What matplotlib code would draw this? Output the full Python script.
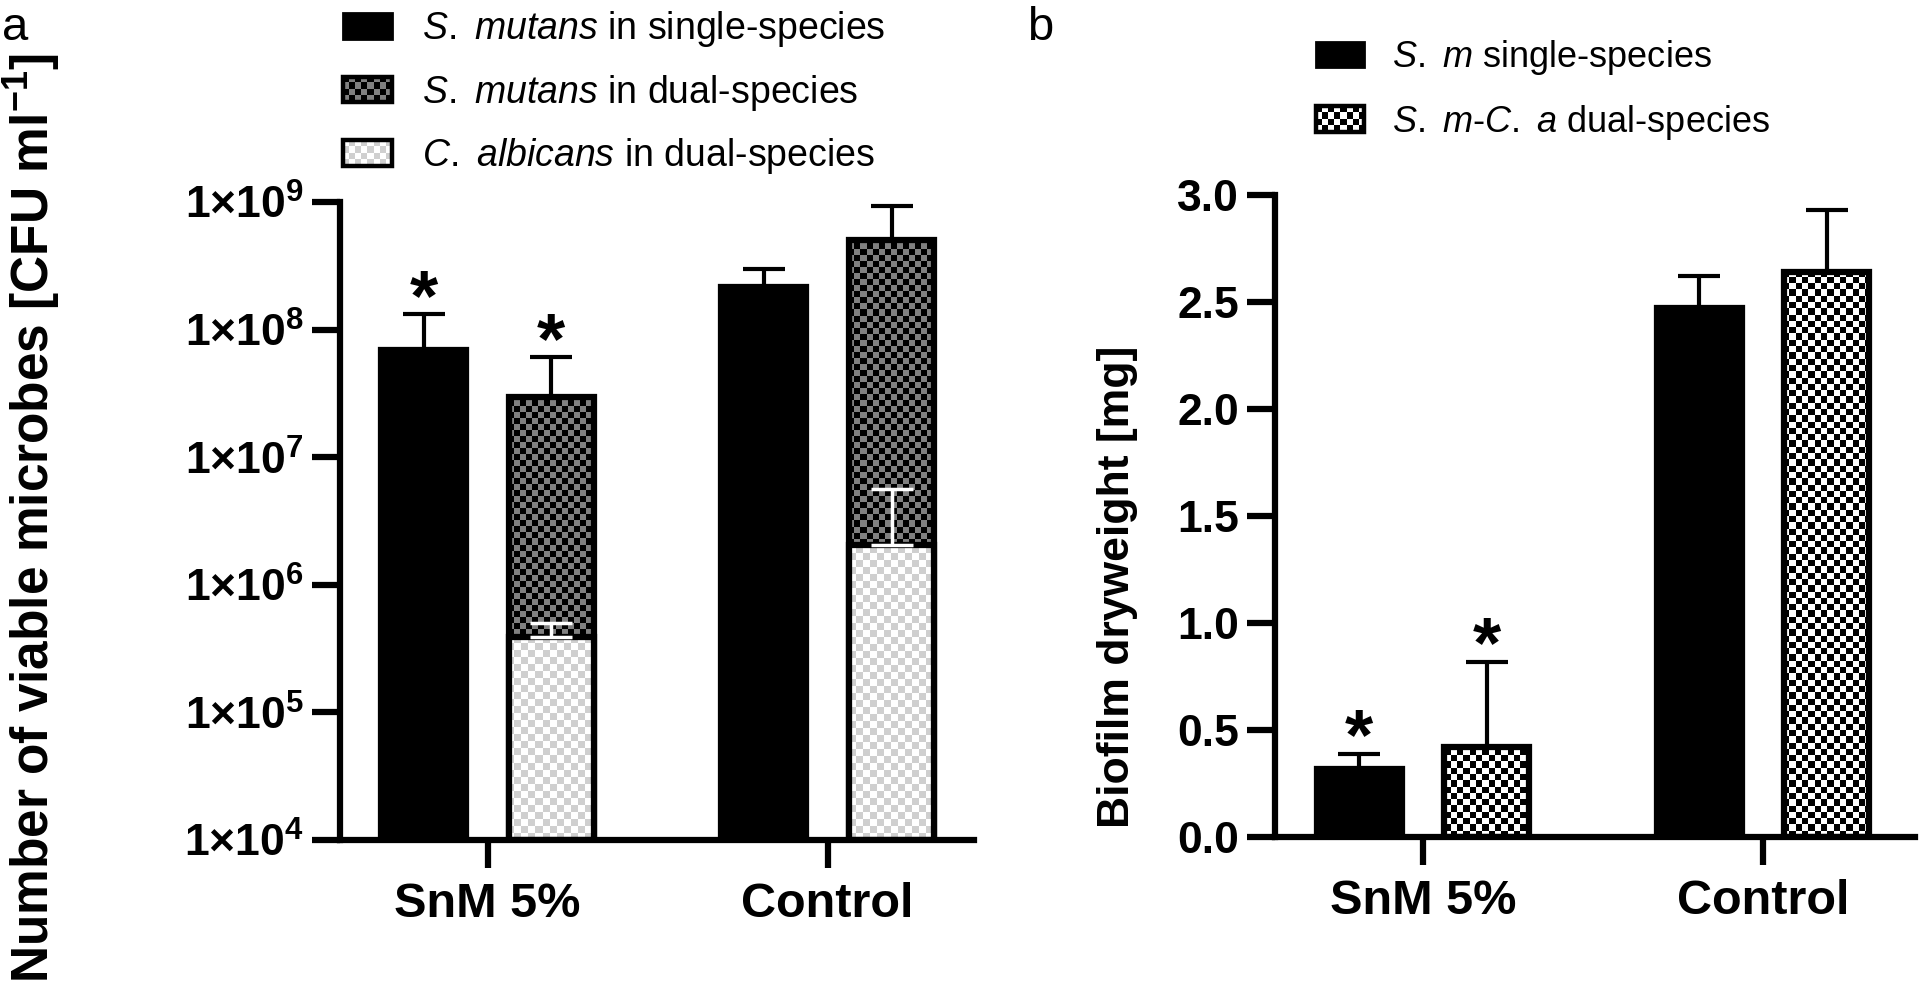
import numpy as np
import matplotlib
matplotlib.use('Agg')
import matplotlib.pyplot as plt
from matplotlib.image import AxesImage, BboxImage
from matplotlib.patches import Rectangle, Patch
from matplotlib.legend_handler import HandlerBase
from matplotlib.transforms import Bbox, TransformedBbox
from matplotlib.ticker import NullLocator, FixedLocator
from matplotlib.colors import to_rgb

plt.rcParams['font.family'] = ['Liberation Sans', 'DejaVu Sans']
plt.rcParams['mathtext.fontset'] = 'custom'
plt.rcParams['mathtext.rm'] = 'Liberation Sans'
plt.rcParams['mathtext.bf'] = 'Liberation Sans:bold'
plt.rcParams['mathtext.it'] = 'Liberation Sans:italic'

# ---------------- data ----------------
groups = ['SnM 5%', 'Control']

# panel a: CFU ml-1 (mean, upper SD)
cfu_sm_single = [6.9e7, 2.16e8]
cfu_sm_single_err = [6.3e7, 0.83e8]
cfu_sm_dual = [2.97e7, 5.04e8]
cfu_sm_dual_err = [3.1e7, 4.3e8]
cfu_ca_dual = [3.9e5, 2.05e6]
cfu_ca_dual_err = [1.1e5, 3.6e6]
cfu_sig_single = [True, False]
cfu_sig_dual = [True, False]
cfu_tick_exps = [4, 5, 6, 7, 8, 9]

# panel b: biofilm dry weight [mg]
dry_single = [0.32, 2.47]
dry_single_err = [0.07, 0.15]
dry_dual = [0.42, 2.64]
dry_dual_err = [0.40, 0.29]
dry_sig_single = [True, False]
dry_sig_dual = [True, False]
dry_ticks = [0.0, 0.5, 1.0, 1.5, 2.0, 2.5, 3.0]

legend_a = [r'$\it{S.\ mutans}$ in single-species',
            r'$\it{S.\ mutans}$ in dual-species',
            r'$\it{C.\ albicans}$ in dual-species']
legend_b = [r'$\it{S.\ m}$ single-species',
            r'$\it{S.\ m}$-$\it{C.\ a}$ dual-species']

# ---------------- styles ----------------
DARK = ('black', '#808080', 6.0)
LIGHT = ('white', '#cfcfcf', 7.0)
BW = ('black', 'white', 6.3)
EDGE_LW = 4.5
SPINE_LW = 4.5

W_PX, H_PX, DPI = 1920, 988, 100
fig = plt.figure(figsize=(W_PX / DPI, H_PX / DPI), dpi=DPI)
fig.patch.set_facecolor('white')

axA = fig.add_axes([340 / W_PX, 148 / H_PX, 634 / W_PX, 638 / H_PX])
axB = fig.add_axes([1275 / W_PX, 151 / H_PX, 640 / W_PX, 642 / H_PX])


def checker_array(nx, ny, c1, c2):
    ii, jj = np.indices((ny, nx))
    mask = ((ii + jj) % 2 == 0)[..., None]
    return np.where(mask, np.array(to_rgb(c1)), np.array(to_rgb(c2)))


def add_checker(ax, patch, spec, zorder):
    c1, c2, cell = spec
    bb = ax.get_position()
    wpx = bb.width * W_PX
    hpx = bb.height * H_PX
    nx, ny = int(round(wpx / cell)), int(round(hpx / cell))
    im = AxesImage(ax, interpolation='nearest', extent=(0, 1, 0, 1),
                   origin='lower')
    im.set_data(checker_array(nx, ny, c1, c2))
    im.set_transform(ax.transAxes)
    im.set_clip_path(patch)
    im.set_zorder(zorder)
    ax.add_image(im)


def draw_bars(ax, xs, vals, base, face, spec, z, w):
    vals = np.asarray(vals, dtype=float)
    bars = ax.bar(xs, vals - base, width=w, bottom=base, color=face,
                  edgecolor='none', zorder=z)
    if spec is not None:
        for b in bars:
            add_checker(ax, b, spec, z + 0.05)
    ax.bar(xs, vals - base, width=w, bottom=base, fill=False,
           edgecolor='black', linewidth=EDGE_LW, zorder=z + 0.1)


def draw_err(ax, xs, vals, errs, color, z, lw=3.0, cap=15):
    ax.errorbar(xs, vals, yerr=[np.zeros(len(vals)), errs], fmt='none',
                ecolor=color, elinewidth=lw, capsize=cap, capthick=lw,
                zorder=z)


def draw_stars(ax, xs, vals, errs, sig):
    for xx, v, e, s in zip(xs, vals, errs, sig):
        if s:
            ax.annotate('*', xy=(xx, v + e), xytext=(0, -4),
                        textcoords='offset points', ha='center',
                        va='baseline', fontsize=52, fontweight='bold',
                        zorder=6)


def style_axes(ax, ysize):
    for s in ['top', 'right']:
        ax.spines[s].set_visible(False)
    for s in ['left', 'bottom']:
        ax.spines[s].set_linewidth(SPINE_LW)
        ax.spines[s].set_capstyle('projecting')
        ax.spines[s].set_zorder(5)
    ax.tick_params(axis='both', which='major', length=20, width=SPINE_LW,
                   direction='out', color='black')
    ax.tick_params(axis='y', labelsize=ysize, pad=6)
    ax.tick_params(axis='x', labelsize=35, pad=10)
    for lab in ax.get_xticklabels() + ax.get_yticklabels():
        lab.set_fontweight('bold')
    ax.set_facecolor('none')


x = np.arange(len(groups))
OFF = 0.1875
BW_ = 0.25

# ---------------- panel a ----------------
axA.set_yscale('log')
base_a = 10.0 ** cfu_tick_exps[0]
draw_bars(axA, x - OFF, cfu_sm_single, base_a, 'black', None, 2.0, BW_)
draw_bars(axA, x + OFF, cfu_sm_dual, base_a, 'black', DARK, 2.2, BW_)
draw_bars(axA, x + OFF, cfu_ca_dual, base_a, 'white', LIGHT, 2.4, BW_)
draw_err(axA, x - OFF, cfu_sm_single, cfu_sm_single_err, 'black', 1.5)
draw_err(axA, x + OFF, cfu_sm_dual, cfu_sm_dual_err, 'black', 1.5)
draw_err(axA, x + OFF, cfu_ca_dual, cfu_ca_dual_err, 'white', 2.7, lw=2.5)
draw_stars(axA, x - OFF, cfu_sm_single, cfu_sm_single_err, cfu_sig_single)
draw_stars(axA, x + OFF, cfu_sm_dual, cfu_sm_dual_err, cfu_sig_dual)

axA.set_xlim(-0.434, 1.43)
axA.set_ylim(10.0 ** cfu_tick_exps[0], 10.0 ** cfu_tick_exps[-1])
axA.yaxis.set_major_locator(FixedLocator([10.0 ** e for e in cfu_tick_exps]))
axA.yaxis.set_minor_locator(NullLocator())
axA.set_yticklabels([r'$\mathbf{1×10^{%d}}$' % e for e in cfu_tick_exps])
axA.set_xticks(x)
axA.set_xticklabels(groups)
style_axes(axA, 32)
axA.set_ylabel(r'Number of viable microbes [CFU ml$^{\mathbf{-1}}$]',
               fontsize=37, fontweight='bold')
axA.yaxis.set_label_coords(-0.437, 0.505)

# ---------------- panel b ----------------
draw_bars(axB, x - OFF, dry_single, 0.0, 'black', None, 2.0, BW_)
draw_bars(axB, x + OFF, dry_dual, 0.0, 'white', BW, 2.2, BW_)
draw_err(axB, x - OFF, dry_single, dry_single_err, 'black', 1.5)
draw_err(axB, x + OFF, dry_dual, dry_dual_err, 'black', 1.5)
draw_stars(axB, x - OFF, dry_single, dry_single_err, dry_sig_single)
draw_stars(axB, x + OFF, dry_dual, dry_dual_err, dry_sig_dual)

axB.set_xlim(-0.435, 1.447)
axB.set_ylim(dry_ticks[0], dry_ticks[-1])
axB.set_yticks(dry_ticks)
axB.set_yticklabels(['%.1f' % t for t in dry_ticks])
axB.set_xticks(x)
axB.set_xticklabels(groups)
style_axes(axB, 32)
axB.set_ylabel('Biofilm dryweight [mg]', fontsize=32, fontweight='bold')
axB.yaxis.set_label_coords(-0.214, 0.39)


# ---------------- legends ----------------
class CheckerHandler(HandlerBase):
    def __init__(self, spec, lw=2.0):
        super().__init__()
        self.spec = spec
        self.lw = lw

    def create_artists(self, legend, orig_handle, xdescent, ydescent,
                       width, height, fontsize, trans):
        if self.spec is None:
            r = Rectangle((-xdescent, -ydescent), width, height,
                          facecolor='black', edgecolor='black',
                          linewidth=self.lw, transform=trans)
            return [r]
        c1, c2, cell = self.spec
        bbox = TransformedBbox(Bbox.from_bounds(-xdescent, -ydescent,
                                                width, height), trans)
        nx = max(2, int(round(width / 4.5)))
        ny = max(2, int(round(height / 4.5)))
        img = BboxImage(bbox, interpolation='nearest')
        img.set_data(checker_array(nx, ny, c1, c2))
        r = Rectangle((-xdescent, -ydescent), width, height,
                      facecolor='none', edgecolor='black',
                      linewidth=self.lw * 1.6, transform=trans)
        return [img, r]


ha = [Patch(label=l) for l in legend_a]
la = axA.legend(ha, legend_a, loc='upper left',
                bbox_to_anchor=(343 / W_PX, 1 - 9 / H_PX),
                bbox_transform=fig.transFigure, frameon=False,
                fontsize=27, handlelength=1.3, handleheight=0.68,
                handletextpad=0.8, labelspacing=0.63, borderpad=0,
                borderaxespad=0,
                handler_map={ha[0]: CheckerHandler(None),
                             ha[1]: CheckerHandler(DARK),
                             ha[2]: CheckerHandler(LIGHT)})

hb = [Patch(label=l) for l in legend_b]
lb = axB.legend(hb, legend_b, loc='upper left',
                bbox_to_anchor=(1316 / W_PX, 1 - 38 / H_PX),
                bbox_transform=fig.transFigure, frameon=False,
                fontsize=26, handlelength=1.33, handleheight=0.7,
                handletextpad=0.78, labelspacing=0.71, borderpad=0,
                borderaxespad=0,
                handler_map={hb[0]: CheckerHandler(None),
                             hb[1]: CheckerHandler(BW)})

# panel letters
fig.text(2 / W_PX, 1 - 6 / H_PX, 'a', fontsize=34, ha='left', va='top')
fig.text(1027 / W_PX, 1 - 6 / H_PX, 'b', fontsize=34, ha='left', va='top')

fig.savefig('out.png', dpi=DPI, facecolor='white')
